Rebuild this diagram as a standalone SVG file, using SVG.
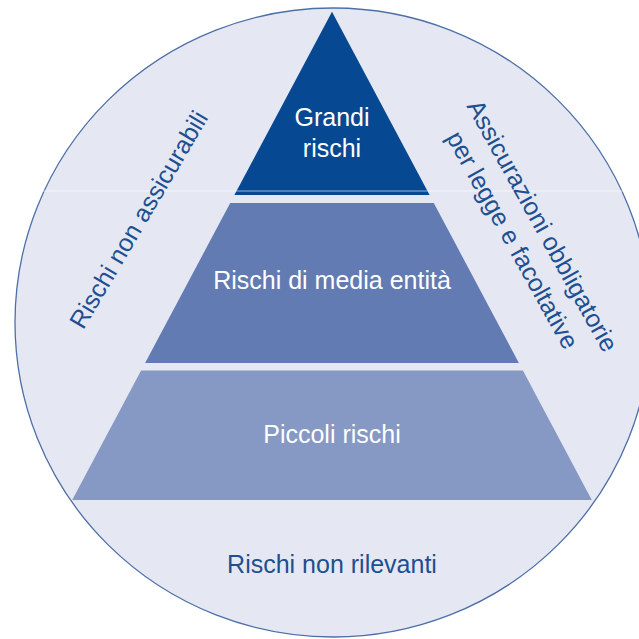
<svg xmlns="http://www.w3.org/2000/svg" width="639" height="639" viewBox="0 0 639 639">
  <style>
    .lbl { font-family: "Liberation Sans", Arial, sans-serif; font-size: 25px; text-anchor: middle; }
    .in { fill: #ffffff; }
    .out { fill: #1d4f91; }
  </style>
  <rect x="0" y="0" width="639" height="639" fill="#ffffff"/>
  <g id="circle">
    <ellipse cx="333" cy="322.5" rx="318" ry="314.5" fill="#e5e8f2" stroke="#4d6fa8" stroke-width="1.3"/>
    <line x1="41" y1="191" x2="627" y2="191" stroke="#ffffff" stroke-opacity="0.6" stroke-width="1"/>
  </g>
  <g id="grandi-rischi">
    <polygon points="332,11.7 429.6,195 234.4,195" fill="#074892"/>
    <line x1="236.5" y1="191" x2="427.5" y2="191" stroke="#ffffff" stroke-opacity="0.6" stroke-width="1"/>
    <text class="lbl in" x="332" y="125.5">Grandi</text>
    <text class="lbl in" x="332" y="157">rischi</text>
  </g>
  <g id="rischi-media">
    <polygon points="230.2,203 433.8,203 518.9,363 145.1,363" fill="#627bb2"/>
    <text class="lbl in" x="332" y="289">Rischi di media entità</text>
  </g>
  <g id="piccoli-rischi">
    <polygon points="141.1,370.5 522.9,370.5 591.8,500 72.2,500" fill="#8698c4"/>
    <text class="lbl in" x="332" y="443">Piccoli rischi</text>
  </g>
  <g id="rischi-non-rilevanti">
    <text class="lbl out" x="332" y="572.5">Rischi non rilevanti</text>
  </g>
  <g id="rischi-non-assicurabili">
    <text class="lbl out" transform="translate(146,224) rotate(-59.5)" x="0" y="0">Rischi non assicurabili</text>
  </g>
  <g id="assicurazioni" transform="translate(520,237) rotate(61)">
    <text class="lbl out" x="1" y="-16.5">Assicurazioni obbligatorie</text>
    <text class="lbl out" x="-1" y="16.5">per legge e facoltative</text>
  </g>
  <g id="connectors"></g>
</svg>
